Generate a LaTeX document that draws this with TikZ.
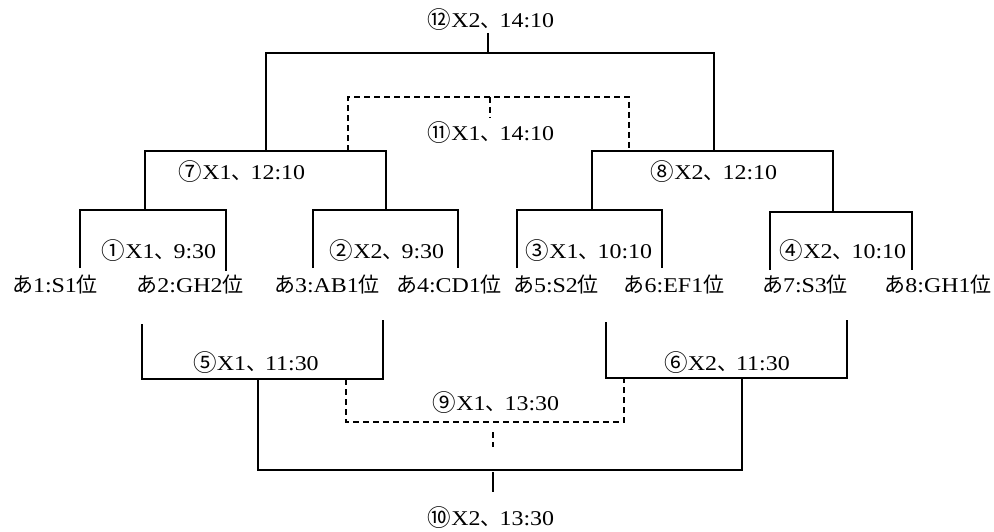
\documentclass[tikz,border=0pt]{standalone}
\usepackage{fontspec}
\setmainfont{Liberation Serif}[FakeStretch=1.14]
\newfontfamily\cjk{Noto Sans CJK JP}
\newcommand\jt[1]{{\cjk #1}}
\newcommand\cn[1]{\raisebox{-0.12ex}{\scalebox{1.12}{\cjk #1}}}
\newcommand\dk{{\cjk 、}\kern-2pt}
\tikzset{
  lbl/.style={inner sep=0pt, font=\fontsize{21}{24}\selectfont},
  solidline/.style={line width=1.8pt},
  dashline/.style={line width=1.7pt, dash pattern=on 6pt off 4pt}
}
\begin{document}
\begin{tikzpicture}[x=1pt,y=-1pt]
\useasboundingbox (0,0) rectangle (994,532);
% labels
\node[lbl] (m12) at (491,20) {\cn{⑫}X2\dk 14:10};
\node[lbl] (m11) at (491,133) {\cn{⑪}X1\dk 14:10};
\node[lbl] (m7) at (242,172) {\cn{⑦}X1\dk 12:10};
\node[lbl] (m8) at (714,172) {\cn{⑧}X2\dk 12:10};
\node[lbl] (m1) at (159,251) {\cn{①}X1\dk 9:30};
\node[lbl] (m2) at (387,251) {\cn{②}X2\dk 9:30};
\node[lbl] (m3) at (589,251) {\cn{③}X1\dk 10:10};
\node[lbl] (m4) at (843,251) {\cn{④}X2\dk 10:10};
\node[lbl] (t1) at (55,285) {\jt{あ}1:S1\jt{位}};
\node[lbl] (t2) at (190,285) {\jt{あ}2:GH2\jt{位}};
\node[lbl] (t3) at (327,285) {\jt{あ}3:AB1\jt{位}};
\node[lbl] (t4) at (449,285) {\jt{あ}4:CD1\jt{位}};
\node[lbl] (t5) at (556,285) {\jt{あ}5:S2\jt{位}};
\node[lbl] (t6) at (674,285) {\jt{あ}6:EF1\jt{位}};
\node[lbl] (t7) at (805,285) {\jt{あ}7:S3\jt{位}};
\node[lbl] (t8) at (938,285) {\jt{あ}8:GH1\jt{位}};
\node[lbl] (m5) at (256,363) {\cn{⑤}X1\dk 11:30};
\node[lbl] (m6) at (727,363) {\cn{⑥}X2\dk 11:30};
\node[lbl] (m9) at (496,403) {\cn{⑨}X1\dk 13:30};
\node[lbl] (m10) at (491,518) {\cn{⑩}X2\dk 13:30};
% upper bracket lines
\draw[solidline] (488,33) -- (488,53);
\draw[solidline] (266,151) -- (266,53) -- (714,53) -- (714,151);
\draw[dashline] (348,151) -- (348,97) -- (629,97) -- (629,151);
\draw[dashline] (490,97) -- (490,118);
\draw[solidline] (145,210) -- (145,151) -- (386,151) -- (386,210);
\draw[solidline] (592,210) -- (592,151) -- (833,151) -- (833,212);
\draw[solidline] (80,268) -- (80,210) -- (226,210) -- (226,271);
\draw[solidline] (313,268) -- (313,210) -- (458,210) -- (458,268);
\draw[solidline] (517,268) -- (517,210) -- (662,210) -- (662,268);
\draw[solidline] (770,270) -- (770,212) -- (912,212) -- (912,270);
% lower bracket lines
\draw[solidline] (142,324) -- (142,379) -- (383,379) -- (383,320);
\draw[solidline] (606,322) -- (606,378) -- (847,378) -- (847,320);
\draw[solidline] (258,379) -- (258,470) -- (742,470) -- (742,378);
\draw[solidline] (493,472) -- (493,492);
\draw[dashline] (346,379) -- (346,422) -- (624,422) -- (624,379);
\draw[dashline] (493,432) -- (493,447);
\end{tikzpicture}
\end{document}
